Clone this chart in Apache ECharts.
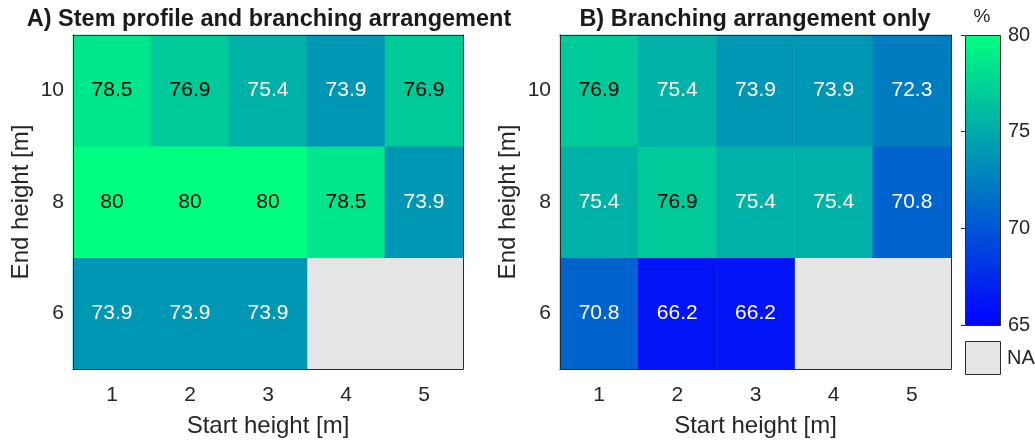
<!DOCTYPE html>
<html><head><meta charset="utf-8">
<script src="https://cdn.jsdelivr.net/npm/echarts@6/dist/echarts.min.js"></script>
<style>html,body{margin:0;padding:0;background:#fff}#c{width:1035px;height:443px}</style>
</head><body><div id="c"></div>
<script>
const startHeights = ['1','2','3','4','5'];
const endHeights = ['6','8','10'];
// rows ordered by end height: 6, 8, 10 ; null = NA
const panelA_row6  = [73.9, 73.9, 73.9, null, null];
const panelA_row8  = [80, 80, 80, 78.5, 73.9];
const panelA_row10 = [78.5, 76.9, 75.4, 73.9, 76.9];
const panelB_row6  = [70.8, 66.2, 66.2, null, null];
const panelB_row8  = [75.4, 76.9, 75.4, 75.4, 70.8];
const panelB_row10 = [76.9, 75.4, 73.9, 73.9, 72.3];
const titleA = 'A) Stem profile and branching arrangement';
const titleB = 'B) Branching arrangement only';
const colorMin = 65, colorMax = 80;

const FONT = 'Liberation Sans, Arial, sans-serif';
const TXT = '#262626';
const BORDER = '#2b2b2b';

function buildData(rows) {
  const out = [];
  rows.forEach((row, yi) => {
    row.forEach((v, xi) => {
      if (v === null) return;
      out.push({ value: [xi, yi, v], label: { color: v > 76 ? '#000' : '#fff' } });
    });
  });
  return out;
}
const dataA = buildData([panelA_row6, panelA_row8, panelA_row10]);
const dataB = buildData([panelB_row6, panelB_row8, panelB_row10]);

const grids = [
  { left: 73, top: 35, width: 390, height: 339, show: true, backgroundColor: '#e5e5e5', borderWidth: 0 },
  { left: 560, top: 35, width: 391, height: 339, show: true, backgroundColor: '#e5e5e5', borderWidth: 0 },
  { left: 965, top: 35, width: 35, height: 290 }
];

function mainX(gi) {
  return [
    { type: 'category', gridIndex: gi, data: startHeights, position: 'bottom', z: 10,
      axisLine: { show: true, lineStyle: { color: BORDER, width: 1 } }, axisTick: { show: false },
      axisLabel: { color: TXT, fontSize: 21, fontFamily: FONT, margin: 16 },
      name: 'Start height [m]', nameLocation: 'middle', nameGap: 45,
      nameTextStyle: { color: TXT, fontSize: 24, fontFamily: FONT }, splitLine: { show: false } },
    { type: 'category', gridIndex: gi, data: startHeights, position: 'top', z: 10,
      axisLine: { show: true, lineStyle: { color: BORDER, width: 1 } }, axisTick: { show: false },
      axisLabel: { show: false }, splitLine: { show: false } }
  ];
}
function mainY(gi) {
  return [
    { type: 'category', gridIndex: gi, data: endHeights, position: 'left', z: 10,
      axisLine: { show: true, lineStyle: { color: BORDER, width: 1 } }, axisTick: { show: false },
      axisLabel: { color: TXT, fontSize: 21, fontFamily: FONT, margin: 9 },
      name: 'End height [m]', nameLocation: 'middle', nameGap: 40,
      nameTextStyle: { color: TXT, fontSize: 24, fontFamily: FONT }, splitLine: { show: false } },
    { type: 'category', gridIndex: gi, data: endHeights, position: 'right', z: 10,
      axisLine: { show: true, lineStyle: { color: BORDER, width: 1 } }, axisTick: { show: false },
      axisLabel: { show: false }, splitLine: { show: false } }
  ];
}

const xAxes = [...mainX(0), ...mainX(1),
  { type: 'value', gridIndex: 2, min: 0, max: 1, show: false }];
const yAxes = [...mainY(0), ...mainY(1),
  { type: 'value', gridIndex: 2, min: colorMin, max: colorMax, interval: 5, position: 'right', z: 10,
    axisLine: { show: false }, splitLine: { show: false },
    axisTick: { show: true, inside: true, length: 4, lineStyle: { color: BORDER } },
    axisLabel: { color: TXT, fontSize: 20, fontFamily: FONT, margin: 8 } }];

const labelStyle = { show: true, fontSize: 21, fontFamily: FONT, formatter: p => p.value[2] };

const option = {
  animation: false,
  backgroundColor: '#fff',
  grid: grids,
  xAxis: xAxes,
  yAxis: yAxes,
  visualMap: {
    show: false, type: 'continuous', min: colorMin, max: colorMax, dimension: 2,
    seriesIndex: [0, 1], inRange: { color: ['#0000ff', '#00ff80'] }
  },
  series: [
    { type: 'heatmap', xAxisIndex: 0, yAxisIndex: 0, data: dataA, label: labelStyle,
      itemStyle: { borderWidth: 0 }, emphasis: { disabled: true } },
    { type: 'heatmap', xAxisIndex: 2, yAxisIndex: 2, data: dataB, label: labelStyle,
      itemStyle: { borderWidth: 0 }, emphasis: { disabled: true } },
    { type: 'custom', xAxisIndex: 4, yAxisIndex: 4, data: [[0, colorMin, colorMax]], silent: true,
      renderItem: (params, api) => {
        const p1 = api.coord([0, api.value(2)]);
        const p2 = api.coord([1, api.value(1)]);
        return { type: 'rect',
          shape: { x: p1[0] + 0.5, y: p1[1] + 0.5, width: p2[0] - p1[0], height: p2[1] - p1[1] },
          style: { fill: new echarts.graphic.LinearGradient(0, 0, 0, 1, [
            { offset: 0, color: '#00ff80' }, { offset: 1, color: '#0000ff' }]),
            stroke: BORDER, lineWidth: 1 } };
      } }
  ],
  graphic: [
    { type: 'text', x: 269, y: 20, z: 100, style: { text: titleA, font: 'bold 23.5px ' + FONT, fill: '#1a1a1a', align: 'center', verticalAlign: 'middle' } },
    { type: 'text', x: 755, y: 20, z: 100, style: { text: titleB, font: 'bold 23.5px ' + FONT, fill: '#1a1a1a', align: 'center', verticalAlign: 'middle' } },
    { type: 'text', x: 982, y: 17, z: 100, style: { text: '%', font: '19px ' + FONT, fill: TXT, align: 'center', verticalAlign: 'middle' } },
    { type: 'rect', shape: { x: 965.5, y: 341.5, width: 35, height: 33 }, z: 100, style: { fill: '#e5e5e5', stroke: BORDER, lineWidth: 1 } },
    { type: 'text', x: 1007, y: 358, z: 100, style: { text: 'NA', font: '20px ' + FONT, fill: TXT, align: 'left', verticalAlign: 'middle' } }
  ]
};
const chart = echarts.init(document.getElementById('c'), null, { renderer: 'canvas' });
chart.setOption(option);
</script></body></html>
